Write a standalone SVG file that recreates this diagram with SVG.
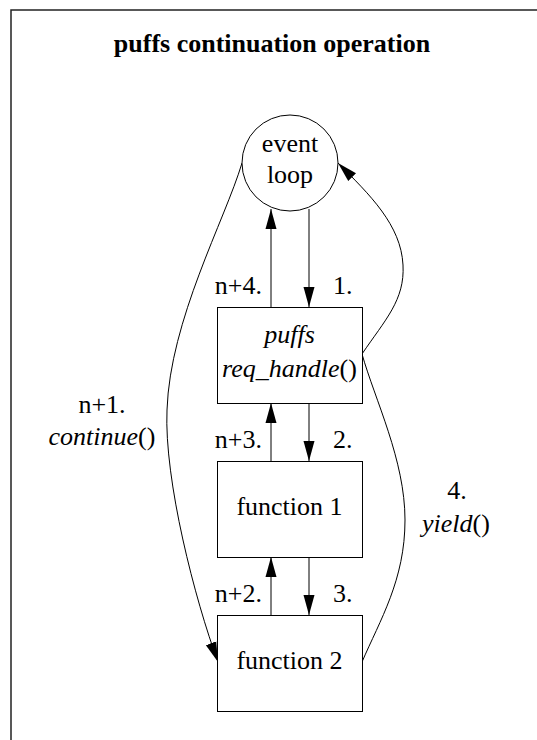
<svg xmlns="http://www.w3.org/2000/svg" width="537" height="740" viewBox="0 0 537 740">
<style>
text{font-family:Liberation Serif,Times New Roman,Times,serif;font-size:26px;fill:#000}
.t{font-weight:bold}
.i{font-style:italic}
.m{text-anchor:middle}
.e{text-anchor:end}
.n{fill:#fff;stroke:#000;stroke-width:1}
.c{fill:none;stroke:#000;stroke-width:1}
</style>
<defs>
<marker id="ah" markerUnits="userSpaceOnUse" markerWidth="20" markerHeight="12" refX="20" refY="6" orient="auto">
<path d="M0,0.5 L20,6 L0,11.5 z" fill="#000"/>
</marker>
</defs>
<rect x="11" y="10" width="620" height="800" fill="#fff" stroke="#222" stroke-width="1.5"/>
<text class="t m" x="272" y="52">puffs continuation operation</text>
<g id="connectors">
<path class="c" d="M271,307 L271,209" marker-end="url(#ah)"/>
<path class="c" d="M309,209 L309,307" marker-end="url(#ah)"/>
<path class="c" d="M271,461 L271,403" marker-end="url(#ah)"/>
<path class="c" d="M309,403 L309,461" marker-end="url(#ah)"/>
<path class="c" d="M271,615 L271,557" marker-end="url(#ah)"/>
<path class="c" d="M309,557 L309,615" marker-end="url(#ah)"/>
<path class="c" d="M242,163 C225,220 170,320 167,410 C164,480 195,600 218,662" marker-end="url(#ah)"/>
<path class="c" d="M362,662 C380,620 405,580 405,520 C405,460 375,400 362,354 C385,320 405,300 403,265 C401,225 370,195 338,163" marker-end="url(#ah)"/>
<text class="e" x="262" y="294">n+4.</text>
<text x="333" y="294">1.</text>
<text class="e" x="262" y="448">n+3.</text>
<text x="333" y="448">2.</text>
<text class="e" x="262" y="602">n+2.</text>
<text x="333" y="602">3.</text>
<text class="m" x="102" y="413">n+1.</text>
<text class="m" x="102" y="445"><tspan class="i">continue</tspan>()</text>
<text class="m" x="457" y="499">4.</text>
<text class="m" x="456" y="532"><tspan class="i">yield</tspan>()</text>
</g>
<g id="event_loop">
<circle class="n" cx="290" cy="163" r="48"/>
<text class="m" x="290" y="152">event</text>
<text class="m" x="290" y="183">loop</text>
</g>
<g id="req_handle">
<rect class="n" x="217.5" y="307.5" width="145" height="96"/>
<text class="m i" x="289.5" y="343">puffs</text>
<text class="m" x="289.5" y="377"><tspan class="i">req_handle</tspan>()</text>
</g>
<g id="function1">
<rect class="n" x="217.5" y="461.5" width="145" height="96"/>
<text class="m" x="289.5" y="515">function 1</text>
</g>
<g id="function2">
<rect class="n" x="217.5" y="615.5" width="145" height="96"/>
<text class="m" x="289.5" y="669">function 2</text>
</g>
</svg>
